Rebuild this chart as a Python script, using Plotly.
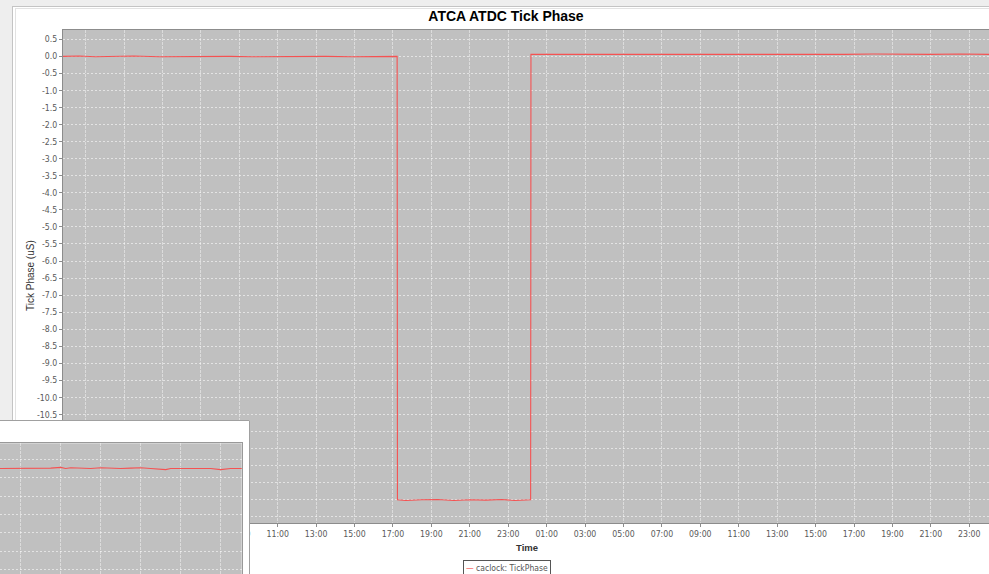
import numpy as np
import plotly.graph_objects as go

W, H = 989, 574

TITLE = "ATCA ATDC Tick Phase"
SERIES_NAME = "caclock: TickPhase"
Y_TITLE = "Tick Phase (uS)"
X_TITLE = "Time"

# caclock TickPhase samples (local time, microseconds)
phase_times = [
    "2011-06-14 23:49:30", "2011-06-15 00:40", "2011-06-15 01:30", "2011-06-15 02:45",
    "2011-06-15 03:30", "2011-06-15 04:50", "2011-06-15 06:00", "2011-06-15 07:10",
    "2011-06-15 08:30", "2011-06-15 09:40", "2011-06-15 11:00", "2011-06-15 12:20",
    "2011-06-15 13:30", "2011-06-15 14:50", "2011-06-15 16:00", "2011-06-15 17:13",
    "2011-06-15 17:14", "2011-06-15 17:40", "2011-06-15 18:30", "2011-06-15 19:20",
    "2011-06-15 20:10", "2011-06-15 21:00", "2011-06-15 21:50", "2011-06-15 22:40",
    "2011-06-15 23:20", "2011-06-16 00:10", "2011-06-16 00:11", "2011-06-16 01:30",
    "2011-06-16 03:00", "2011-06-16 04:30", "2011-06-16 06:00", "2011-06-16 07:30",
    "2011-06-16 09:00", "2011-06-16 10:30", "2011-06-16 12:00", "2011-06-16 13:30",
    "2011-06-16 15:00", "2011-06-16 16:30", "2011-06-16 18:00", "2011-06-16 19:30",
    "2011-06-16 21:00", "2011-06-16 22:30", "2011-06-17 00:02",
]
phase_values = [
    0.00, 0.01, -0.01, 0.00,
    0.01, -0.01, 0.00, 0.01,
    0.00, -0.01, 0.00, 0.01,
    0.00, -0.01, 0.00, 0.00,
    -13.00, -13.02, -13.00, -12.99,
    -13.02, -13.00, -13.01, -12.99,
    -13.02, -13.00, 0.06, 0.05,
    0.06, 0.06, 0.05, 0.06,
    0.06, 0.05, 0.06, 0.06,
    0.05, 0.06, 0.07, 0.06,
    0.06, 0.07, 0.06,
]

# the same monitor point over an earlier window (second chart window)
detail_times = [
    "2011-06-13 23:50", "2011-06-14 00:30", "2011-06-14 01:00", "2011-06-14 01:30",
    "2011-06-14 02:00", "2011-06-14 02:30", "2011-06-14 03:00", "2011-06-14 03:15",
    "2011-06-14 03:30", "2011-06-14 04:00", "2011-06-14 04:30", "2011-06-14 05:00",
    "2011-06-14 05:30", "2011-06-14 06:00", "2011-06-14 06:30", "2011-06-14 07:00",
    "2011-06-14 07:30", "2011-06-14 08:00", "2011-06-14 08:15", "2011-06-14 08:30",
    "2011-06-14 09:00", "2011-06-14 09:30", "2011-06-14 10:00", "2011-06-14 10:30",
    "2011-06-14 11:00", "2011-06-14 11:15", "2011-06-14 11:30", "2011-06-14 12:10",
]
detail_values = [
    0.00, 0.00, -0.01, 0.00,
    0.00, 0.01, 0.03, 0.00,
    0.02, 0.01, 0.00, 0.02,
    0.00, 0.00, 0.01, 0.02,
    0.00, -0.01, -0.03, 0.00,
    0.00, 0.01, 0.00, 0.00,
    -0.03, -0.01, 0.00, 0.00,
]

time_range = ["2011-06-14 23:49:26", "2011-06-17 00:01:34"]
phase_range = [-13.68, 0.774]
y_tick_values = [round(v, 1) for v in np.arange(0.5, -13.51, -0.5)]
y_tick_labels = [f"{v:.1f}" for v in y_tick_values]

detail_time_range = ["2011-06-13 23:57:54", "2011-06-14 12:03:00"]
detail_phase_range = [-2.875, 0.686]

LINE_RED = "#f55252"
PLOT_BG = "#c0c0c0"
GRID_H = "rgba(255,255,255,0.55)"
GRID_V = "rgba(255,255,255,0.45)"
AXIS_LINE = "#8c8c8c"
TICK_FONT = dict(family="DejaVu Sans Condensed, Liberation Sans, sans-serif", size=8.7, color="#5a5a5a")
TWO_HOURS = 2 * 3600 * 1000


def fx(p):
    return p / W


def fy(p):
    return 1 - p / H


fig = go.Figure()

# main time series
fig.add_trace(go.Scatter(
    x=phase_times, y=phase_values, name=SERIES_NAME, mode="lines",
    line=dict(color=LINE_RED, width=1.1), xaxis="x", yaxis="y", showlegend=False,
    hoverinfo="skip",
))

# second window: white panel with a grey frame on its visible edges
fig.add_trace(go.Scatter(
    x=[-10, 260, 260, -10, -10], y=[410, 410, 590, 590, 410], mode="lines",
    fill="toself", fillcolor="white", line=dict(width=0), xaxis="x2", yaxis="y2",
    showlegend=False, hoverinfo="skip",
))
fig.add_trace(go.Scatter(
    x=[-10, 249.5, 249.5], y=[420.5, 420.5, 590], mode="lines",
    line=dict(color="#a0a0a0", width=1), xaxis="x2", yaxis="y2",
    showlegend=False, hoverinfo="skip",
))

# second window: its own plot
fig.add_trace(go.Scatter(
    x=detail_times, y=detail_values, mode="lines",
    line=dict(color=LINE_RED, width=1.1), xaxis="x3", yaxis="y3",
    showlegend=False, hoverinfo="skip",
))

fig.update_layout(
    width=W, height=H,
    margin=dict(l=0, r=0, t=0, b=0, autoexpand=False),
    paper_bgcolor="white",
    plot_bgcolor=PLOT_BG,
    showlegend=False,
    title=dict(
        text=TITLE, x=fx(506), xanchor="center", y=fy(16), yanchor="middle",
        font=dict(family="Liberation Sans, DejaVu Sans, sans-serif", size=14,
                  color="#000000", weight="bold"),
    ),
    xaxis=dict(
        domain=[fx(63), 1], anchor="y", type="date", range=time_range,
        tickformat="%H:%M", tick0="2011-06-15 01:00", dtick=TWO_HOURS,
        showgrid=True, gridcolor=GRID_V, griddash="3px,1px", gridwidth=1,
        ticks="outside", ticklen=3, tickcolor=AXIS_LINE, tickfont=TICK_FONT,
        showline=True, mirror=True, linecolor=AXIS_LINE, zeroline=False,
    ),
    yaxis=dict(
        domain=[fy(523), fy(30)], anchor="x", range=phase_range,
        tickvals=y_tick_values, ticktext=y_tick_labels,
        showgrid=True, gridcolor=GRID_H, griddash="2px,2px", gridwidth=1,
        ticks="outside", ticklen=3, tickcolor=AXIS_LINE, tickfont=TICK_FONT,
        showline=True, mirror=True, linecolor=AXIS_LINE, zeroline=False,
    ),
    xaxis2=dict(domain=[0, fx(250)], anchor="y2", range=[0, 250], visible=False),
    yaxis2=dict(domain=[0, fy(420)], anchor="x2", range=[574, 420], visible=False),
    xaxis3=dict(
        domain=[0, fx(241.7)], anchor="y3", type="date", range=detail_time_range,
        tick0="2011-06-14 01:00", dtick=TWO_HOURS, side="top",
        showgrid=True, gridcolor=GRID_V, griddash="3px,1px",
        showticklabels=False, ticks="", showline=True, linecolor="#999999",
        zeroline=False,
    ),
    yaxis3=dict(
        domain=[0, fy(443.3)], anchor="x3", range=detail_phase_range,
        tick0=0.25, dtick=0.5, side="right",
        showgrid=True, gridcolor=GRID_H, griddash="2px,2px",
        showticklabels=False, ticks="", showline=True, linecolor="#999999",
        zeroline=False,
    ),
)

# window chrome around the chart panel
shapes = [
    dict(type="rect", xref="paper", yref="paper", x0=0, x1=fx(12), y0=0, y1=1,
         fillcolor="#eeeeee", line=dict(width=0), layer="below"),
    dict(type="rect", xref="paper", yref="paper", x0=0, x1=1, y0=fy(6), y1=1,
         fillcolor="#eeeeee", line=dict(width=0), layer="below"),
    dict(type="line", xref="paper", yref="paper", x0=fx(12.5), x1=fx(12.5), y0=0, y1=fy(6),
         line=dict(color="#c4c4c4", width=1), layer="below"),
    dict(type="line", xref="paper", yref="paper", x0=fx(12), x1=1, y0=fy(6.5), y1=fy(6.5),
         line=dict(color="#c4c4c4", width=1), layer="below"),
    dict(type="line", xref="paper", yref="paper", x0=fx(15.5), x1=fx(15.5), y0=0, y1=fy(8),
         line=dict(color="#e2e2e2", width=1), layer="below"),
    dict(type="line", xref="paper", yref="paper", x0=fx(15), x1=1, y0=fy(8.5), y1=fy(8.5),
         line=dict(color="#e2e2e2", width=1), layer="below"),
]
fig.update_layout(shapes=shapes)

LABEL_FONT = "Liberation Sans, DejaVu Sans, sans-serif"
fig.add_annotation(
    text=Y_TITLE, xref="paper", yref="paper", x=fx(30), y=fy(276),
    showarrow=False, textangle=-90, xanchor="center", yanchor="middle",
    font=dict(family=LABEL_FONT, size=10, color="#333333"),
)
fig.add_annotation(
    text=X_TITLE, xref="paper", yref="paper", x=fx(527), y=fy(547),
    showarrow=False, xanchor="center", yanchor="middle",
    font=dict(family=LABEL_FONT, size=9.5, color="#333333", weight="bold"),
)
# legend box
fig.add_annotation(
    text=f'<span style="color:{LINE_RED}">\u2014</span> {SERIES_NAME}',
    xref="paper", yref="paper", x=fx(507.5), y=fy(567.5),
    showarrow=False, xanchor="center", yanchor="middle",
    bordercolor="#555555", borderwidth=1, borderpad=2, bgcolor="white",
    font=dict(family=TICK_FONT["family"], size=8.5, color="#555555"),
)

fig.write_html("out.html")
